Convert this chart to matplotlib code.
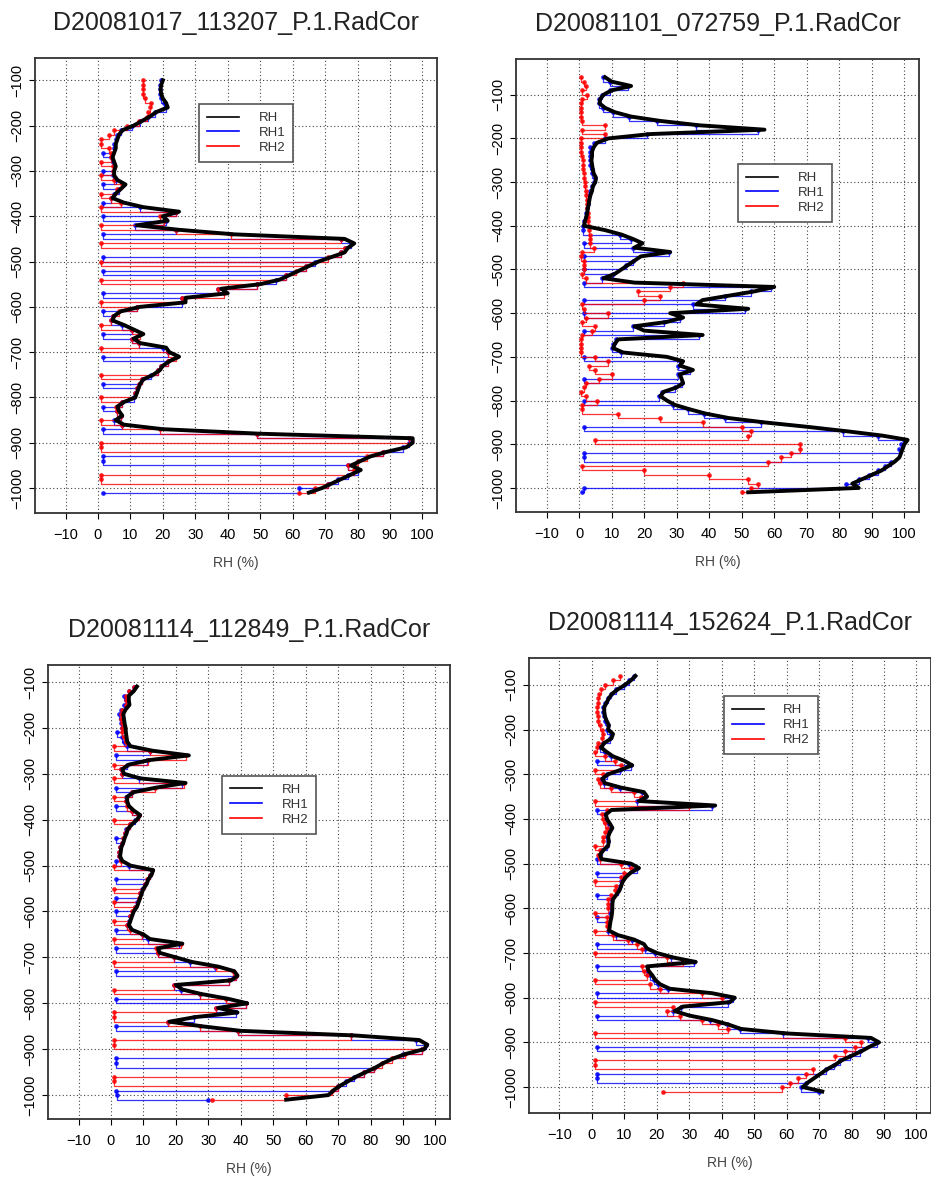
import numpy as np
import matplotlib
matplotlib.use("Agg")
import matplotlib.pyplot as plt
from matplotlib.lines import Line2D

plt.rcParams['font.family'] = ['Liberation Sans', 'DejaVu Sans']

# ---- panel A: D20081017_113207 (pressure grid 100..1010 hPa) ----
title_a = "D20081017_113207_P.1.RadCor"
p_a = list(range(100, 1011, 10))
rh_a = [20, 19.5, 19.3, 19.5, 20, 21, 21.5, 18, 16, 13.5,
        11, 7.6, 6.5, 6, 5.5, 5.5, 5, 4.5, 5, 5.5,
        5, 5, 6, 8.5, 7, 5.5, 4.5, 8, 14, 25,
        20, 21.5, 12, 25, 42, 76, 79, 77, 76, 72,
        68, 65, 62, 59, 56, 50, 38, 40, 27, 27,
        13, 7, 5, 4.5, 8, 11, 14, 11, 13, 21,
        22, 25, 22, 20, 19, 17, 14, 13, 12.5, 12,
        11.5, 8, 6, 6.5, 7.5, 5.5, 8, 20, 50, 97,
        97, 95, 89, 84, 81, 78, 81, 78, 75, 72,
        69, 65]
rh1_a = [19.5, 19, 19, 19, 19.5, 20.5, 21, 17.5, 15.5, 13,
         10.5, 7, 6, 5.5, 5, 5, 1.5, 4, 4.5, 5,
         1.5, 4.5, 5.5, 1.5, 6.5, 5, 4, 1.5, 13, 24,
         1.5, 21, 11.5, 24, 1.5, 75, 78, 76, 75, 1.5,
         67, 64, 1.5, 58, 55, 49, 37, 1.5, 26, 26,
         12, 1.5, 4.5, 4, 7.5, 10.5, 1.5, 10.5, 12.5, 20,
         21.5, 1.5, 21.5, 19.5, 18.5, 16.5, 13.5, 1.5, 12, 11.5,
         11, 7.5, 1.5, 6, 7, 5, 7.5, 1.5, 49, 96,
         96, 94, 88, 1.5, 1.5, 77, 80, 77, 74, 71,
         62, 1.5]
rh2_a = [14, 14, 13.8, 14, 14.5, 16.5, 16, 15.5, 15, 12.5,
         9, 5, 3.5, 1, 1, 3.5, 4, 4, 1, 4.5,
         4.5, 1, 5, 7.5, 6, 1, 4, 7, 1, 24,
         19, 20.5, 1, 24, 41, 75, 1, 76, 75, 71,
         1, 64, 61, 58, 1, 49, 37, 39, 26, 1,
         12, 6.5, 4.5, 4, 1, 10.5, 13, 10.5, 12.5, 1,
         21.5, 24, 21.5, 19.5, 18.5, 1, 13.5, 12.5, 12, 11.5,
         1, 7.5, 5.5, 6, 7, 1, 7.5, 19, 49, 96,
         1, 1, 88, 83, 80, 77, 79, 1, 1, 71,
         67, 62]

# ---- panel B: D20081101_072759 (pressure grid 60..1010 hPa) ----
title_b = "D20081101_072759_P.1.RadCor"
p_b = list(range(60, 1011, 10))
rh_b = [8, 10, 16, 10, 7.5, 6.5, 6.3, 8, 11, 16,
        25, 37, 57, 22, 9, 5.5, 4.5, 4, 4, 3.8,
        4, 4.2, 4.5, 5.2, 5, 4.2, 4, 3.5, 3.2, 3,
        2.7, 2.5, 2.2, 1.8, 1.5, 8, 13, 16.5, 19.5, 17,
        28, 19, 17, 15, 13, 11, 7.5, 17, 60, 54,
        46, 38, 36, 52, 28, 32, 27, 17, 20, 38,
        12, 11, 10.5, 13.5, 27, 32, 31, 35, 31, 31.5,
        32, 30, 26, 25, 27, 29.5, 34, 39, 46, 57,
        70, 82, 93, 101, 100, 99.5, 99, 98.5, 97, 95,
        93, 90, 87, 84, 86, 52]
rh1_b = [7.5, 9.5, 15, 9.5, 7, 6, 6, 7.5, 10.5, 15.5,
         24, 36, 55, 21, 8, 4.5, 3.5, 3.5, 3.5, 3.5,
         3.5, 4, 4, 5, 4.5, 4, 3.5, 3, 2.8, 2.7,
         2.5, 2.2, 2, 1.6, 1.3, 1.2, 12.5, 16, 1.5, 16.5,
         27.5, 1.5, 16.5, 14.5, 1.5, 10.5, 7, 1.5, 59, 53,
         45, 1.5, 35, 51, 1.5, 31, 26, 16.5, 1.5, 37,
         11.5, 10.5, 10, 13, 1.5, 31, 30.5, 34, 30.5, 1.5,
         31.5, 29.5, 25.5, 24.5, 1.5, 29, 33.5, 38.5, 45, 56,
         1.5, 81, 92, 100, 99, 98.5, 1.5, 1.5, 96, 94,
         92, 89, 86, 82, 1.5, 1]
rh2_b = [0.5, 1.5, 2, 1, 2.5, 1, 0.5, 0.5, 0.5, 0.5,
         1, 8, 1, 8, 0.5, 0.5, 0.5, 0.7, 1, 1.1,
         1.2, 1.3, 1.5, 1.6, 1.8, 1.9, 2, 2.2, 2.3, 2.4,
         2.5, 2.6, 2.8, 2.9, 3, 3.2, 3.3, 3.4, 3.5, 4.5,
         1, 0.5, 1.5, 1.5, 1.5, 1, 2, 32, 28, 18,
         25, 20, 1, 1.5, 9, 2, 1, 5, 4, 1,
         0.5, 0.5, 0.5, 0.5, 5, 9, 3, 5, 10, 6,
         2, 1.5, 0.5, 2, 5.5, 1, 1, 12, 25, 38,
         50, 53, 52, 5, 68, 68, 65, 62, 58, 1,
         20, 40, 52, 55, 53, 50]

# ---- panel C: D20081114_112849 (pressure grid 110..1010 hPa) ----
title_c = "D20081114_112849_P.1.RadCor"
p_c = list(range(110, 1011, 10))
rh_c = [8, 7, 5.5, 5.5, 5.7, 4.5, 3.8, 4, 4.2, 4.5,
        4.6, 4.8, 5, 6, 13, 24, 12, 5.5, 3.5, 4,
        9, 23, 14, 7, 5, 5, 5.5, 7, 9, 8,
        6.5, 5.2, 4.8, 4.2, 3.8, 3.2, 3, 2.8, 3.5, 6,
        13, 12.5, 11.5, 11, 10, 9.5, 9, 8.5, 8, 7,
        6.5, 6, 5.5, 6.5, 10, 12, 22, 14.5, 15, 20,
        25, 33, 38, 39, 37, 20, 22, 28, 36, 42,
        33, 39, 26, 18, 28, 40, 75, 95, 97.5, 96.5,
        91, 87, 84, 81.5, 78.5, 75.5, 73, 70.5, 68.5, 67,
        54]
rh1_c = [7, 5.5, 4, 4.5, 4, 3, 2.5, 3, 3, 3.5,
         2, 3.5, 4, 5, 12, 1.5, 11, 5, 3, 3.5,
         8.5, 22, 1.5, 6.5, 4.5, 4.5, 1.5, 6.5, 8.5, 7.5,
         6, 4.7, 4.3, 1.5, 3.3, 2.8, 2.6, 2.4, 1.5, 5.5,
         12.5, 12, 1.5, 10.5, 9.5, 9, 1.5, 8, 7.5, 1.5,
         6, 5.5, 5, 1.5, 9.5, 11.5, 21, 1.5, 14.5, 19.5,
         24.5, 32, 1.5, 38.5, 36.5, 19.5, 21.5, 27.5, 1.5, 41.5,
         32.5, 38.5, 25.5, 17.5, 1.5, 39, 74, 94, 97, 96,
         90, 1.5, 1.5, 81, 78, 75, 72.5, 70, 1.5, 2,
         30]
rh2_c = [7, 5.5, 4.5, 4.5, 4.5, 3.5, 3, 3, 3.5, 3.5,
         3.5, 4, 4.5, 1, 12, 23, 11.5, 1, 3, 3.5,
         1, 22.5, 13.5, 6.5, 1, 4.5, 5, 6.5, 8.5, 1,
         6, 4.8, 4.4, 3.8, 3.4, 2.8, 2.6, 2.4, 3.2, 1,
         12.5, 12, 11, 10.5, 1, 9, 8.5, 1, 7.5, 6.5,
         6, 1, 5, 6, 9.5, 1, 21.5, 14, 14.5, 19.5,
         1, 32.5, 37.5, 38.5, 36.5, 19.5, 1, 27.5, 35.5, 41.5,
         32.5, 1, 1, 17.5, 27.5, 39, 74, 1, 1, 96,
         90.5, 86.5, 83.5, 81, 78, 1, 1, 70, 68, 54,
         31]

# ---- panel D: D20081114_152624 (pressure grid 80..1010 hPa) ----
title_d = "D20081114_152624_P.1.RadCor"
p_d = list(range(80, 1011, 10))
rh_d = [13.4, 12, 10.2, 8, 6.2, 5.2, 4.5, 3.8, 3.8, 4,
        4.5, 5.2, 5, 6.5, 6, 3.8, 2.8, 4.5, 6.5, 10,
        12.4, 9, 5, 3.2, 4, 9, 16, 17, 14.5, 38,
        6, 4.3, 4.6, 5.5, 6.3, 5.5, 5, 5.2, 5, 3.5,
        2.5, 3, 12, 14.5, 12, 10.5, 9.5, 9, 8.5, 7.5,
        6.5, 6.3, 6.3, 6.2, 6, 5.7, 5.5, 5.3, 8, 13,
        16, 17, 20, 25, 32, 17, 17.5, 18.6, 19.5, 21,
        24, 37, 44, 42.5, 28, 25.5, 30, 37, 42, 46,
        60, 86, 88.5, 85.5, 83, 80, 77, 75, 72.5, 70.5,
        68.5, 66.5, 65, 71]
rh1_d = [13, 11.5, 9.8, 7.5, 5.8, 4.8, 4, 3.4, 3.4, 3.6,
         4, 4.8, 4.5, 6, 5.5, 3.4, 2.4, 4, 6, 1.5,
         12, 8.5, 4.5, 2.8, 3.6, 8.5, 15.5, 16.5, 14, 37,
         1.5, 3.9, 4.2, 5, 5.8, 5, 4.5, 4.8, 4.6, 3.1,
         2.1, 1.5, 11.5, 14, 1.5, 10, 9, 8.5, 8, 1.5,
         6, 5.8, 5.8, 5.7, 1.5, 5.2, 5, 4.8, 7.5, 12.5,
         1.5, 16.5, 19.5, 24.5, 31.5, 1.5, 17, 18, 19, 20.5,
         23.5, 1.5, 43.5, 42, 27.5, 25, 1.5, 36.5, 41.5, 45.5,
         59, 85, 88, 1.5, 82.5, 79.5, 76.5, 74.5, 72, 1.5,
         1.5, 66, 64.5, 70]
rh2_d = [8.5, 6.5, 4, 2.7, 2.2, 2, 1.8, 1.5, 1.5, 1.8,
         2, 2.5, 3, 3.5, 3, 2, 1.5, 1, 4, 7,
         9, 1, 3.5, 2, 2.5, 6, 13, 15, 1, 30,
         4.5, 3, 3.5, 4, 4.5, 4, 3.5, 3.5, 1, 2.5,
         2, 2.5, 9, 12, 10, 9, 1, 7.5, 7, 6,
         5, 5, 5, 1, 4.5, 4.5, 4.5, 1, 6.5, 11,
         14, 15.5, 1, 23, 28, 15.5, 16, 17, 1, 18,
         21, 34, 40, 1, 25, 23, 27, 34, 39, 42,
         1, 78, 83, 81, 78, 75, 1, 1, 68, 66,
         63.5, 61, 58.5, 22]

x_ticks = [-10, 0, 10, 20, 30, 40, 50, 60, 70, 80, 90, 100]
y_ticks = [-100, -200, -300, -400, -500, -600, -700, -800, -900, -1000]


def draw_panel(ax, title, p, rh, rh1, rh2, ylim, legend_xy):
    y = -np.asarray(p, dtype=float)
    # sensor traces: the heating cycles show up as horizontal jumps to ~0
    ax.plot(rh1, y, color='#0000ff', lw=0.9, marker='o', ms=2.4, alpha=0.8,
            drawstyle='steps-pre', zorder=3)
    ax.plot(rh2, y, color='#ff0000', lw=0.9, marker='o', ms=2.4, alpha=0.8,
            drawstyle='steps-pre', zorder=4)
    ax.plot(rh, y, color='black', lw=2.8, zorder=5, solid_joinstyle='round')

    ax.set_xlim(-19.4, 104.5)
    ax.set_ylim(*ylim)
    ax.set_xticks(x_ticks)
    ax.set_yticks(y_ticks)
    ax.grid(True, linestyle=(0, (1, 2.2)), color='#444444', lw=0.8)
    ax.tick_params(axis='both', direction='out', length=4, width=0.8, labelsize=10.5)
    ax.tick_params(axis='x', pad=7)
    ax.tick_params(axis='y', labelrotation=90, pad=4)
    for lab in ax.get_yticklabels():
        lab.set_va('center')
    for s in ax.spines.values():
        s.set_linewidth(1.3)
        s.set_color('#333333')

    ax.set_title(title, fontsize=18, color='#222222', pad=20)
    ax.set_xlabel('RH (%)', fontsize=10, color='#444444', labelpad=10)

    handles = [Line2D([], [], color='black', lw=1.2),
               Line2D([], [], color='#0000ff', lw=1.2),
               Line2D([], [], color='#ff0000', lw=1.2)]
    leg = ax.legend(handles, ['RH', 'RH1', 'RH2'], loc='upper left',
                    bbox_to_anchor=legend_xy, borderaxespad=0, fontsize=9.5,
                    handlelength=2.4, handletextpad=1.5, labelspacing=0.2,
                    borderpad=0.6, fancybox=False, framealpha=1)
    leg.get_frame().set_edgecolor('#555555')
    leg.get_frame().set_linewidth(1.2)
    leg.set_zorder(10)
    for t in leg.get_texts():
        t.set_color('#333333')


def main():
    fig = plt.figure(figsize=(9.31, 11.78), dpi=100)
    ax_a = fig.add_axes([0.0376, 0.5645, 0.4318, 0.3862])
    ax_b = fig.add_axes([0.5542, 0.5654, 0.4329, 0.3846])
    ax_c = fig.add_axes([0.0516, 0.0501, 0.4318, 0.3854])
    ax_d = fig.add_axes([0.5682, 0.0552, 0.4318, 0.3862])

    draw_panel(ax_a, title_a, p_a, rh_a, rh1_a, rh2_a, (-1055, -51), (0.408, 0.899))
    draw_panel(ax_b, title_b, p_b, rh_b, rh1_b, rh2_b, (-1055, -18), (0.551, 0.768))
    draw_panel(ax_c, title_c, p_c, rh_c, rh1_c, rh2_c, (-1052, -63), (0.433, 0.756))
    draw_panel(ax_d, title_d, p_d, rh_d, rh1_d, rh2_d, (-1058, -40), (0.485, 0.916))

    fig.savefig('out.png', dpi=100)


if __name__ == "__main__":
    main()
